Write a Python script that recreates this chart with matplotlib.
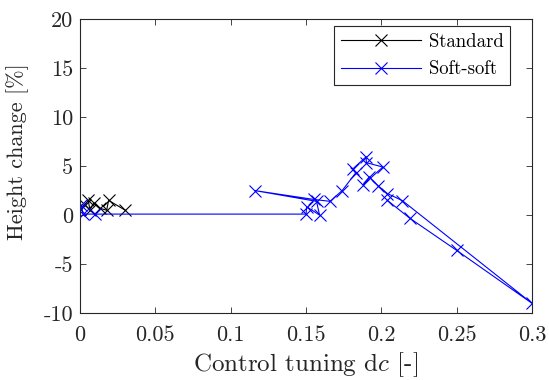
import matplotlib
matplotlib.use("Agg")
import matplotlib.pyplot as plt

plt.rcParams['font.family'] = 'serif'
plt.rcParams['font.serif'] = ['cmr10']
plt.rcParams['mathtext.fontset'] = 'cm'
plt.rcParams['axes.unicode_minus'] = False
plt.rcParams['axes.formatter.use_mathtext'] = True

# Standard series
std_dc = [0.003, 0.0055, 0.0066, 0.009, 0.013, 0.0177, 0.019, 0.030]
std_h = [1.0, 1.5, 0.5, 1.2, 0.7, 0.5, 1.5, 0.5]

# Soft-soft series
soft_dc = [0.0, 0.001, 0.002, 0.010, 0.150, 0.1505, 0.159, 0.157, 0.116,
           0.155, 0.166, 0.174, 0.183, 0.181, 0.190, 0.190, 0.201, 0.188,
           0.192, 0.198, 0.204, 0.214, 0.300, 0.250, 0.219, 0.204]
soft_h = [0.6, 1.0, 0.1, 0.1, 0.1, 0.85, 0.0, 1.4, 2.5,
          1.6, 1.4, 2.5, 4.3, 4.7, 5.96, 5.35, 4.9, 3.1,
          3.9, 2.97, 2.2, 1.47, -9.0, -3.6, -0.33, 1.5]

xticks = [0, 0.05, 0.1, 0.15, 0.2, 0.25, 0.3]
xticklabels = ['0', '0.05', '0.1', '0.15', '0.2', '0.25', '0.3']
yticks = [-10, -5, 0, 5, 10, 15, 20]
yticklabels = ['-10', '-5', '0', '5', '10', '15', '20']

fig = plt.figure(figsize=(5.49, 3.80), dpi=100)
ax = fig.add_axes([0.1457, 0.176, 0.8233, 0.774])

ax.plot(std_dc, std_h, color='black', marker='x', markersize=8,
        linewidth=0.8, markeredgewidth=0.8, label='Standard')
ax.plot(soft_dc, soft_h, color='blue', marker='x', markersize=8,
        linewidth=0.8, markeredgewidth=0.8, label='Soft-soft')

ax.set_xlim(0, 0.3)
ax.set_ylim(-10, 20)
ax.set_xticks(xticks)
ax.set_xticklabels(xticklabels)
ax.set_yticks(yticks)
ax.set_yticklabels(yticklabels)
ax.tick_params(direction='in', top=True, right=True, length=4, width=0.6,
               labelsize=16, colors='#262626')
ax.tick_params(axis='x', pad=9)
ax.tick_params(axis='y', pad=5)
for s in ax.spines.values():
    s.set_color('#262626')
    s.set_linewidth(0.8)

ax.set_xlabel('Control tuning d$c$ [-]', fontsize=18, color='#262626', labelpad=4)
ax.set_ylabel('Height change [%]', fontsize=16, color='#262626')
ax.yaxis.set_label_coords(-0.112, 0.55)

leg = ax.legend(loc='upper right', fontsize=13.5, handlelength=4.3,
                fancybox=False, framealpha=1, edgecolor='#262626',
                bbox_to_anchor=(0.952, 0.975), borderaxespad=0.0,
                handletextpad=0.4, labelspacing=0.5, borderpad=0.35)
leg.get_frame().set_linewidth(0.8)

fig.savefig('out.png', dpi=100)
